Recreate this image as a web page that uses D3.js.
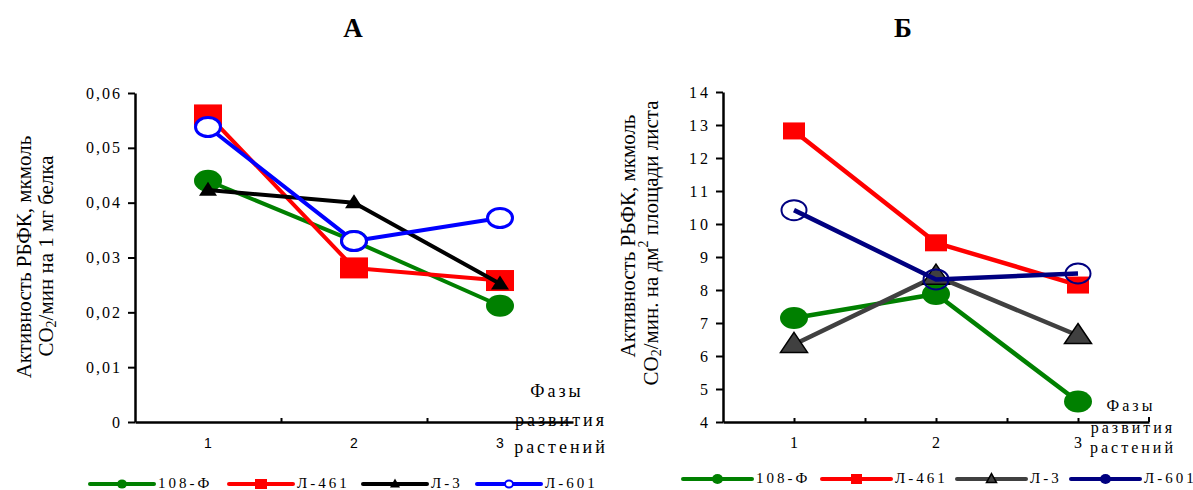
<!DOCTYPE html>
<html>
<head>
<meta charset="utf-8">
<script src="https://cdn.jsdelivr.net/npm/d3@7"></script>
<style>
  body { margin: 0; background: #fff; }
  svg { display: block; }
  text { font-family: "Liberation Serif", "Times New Roman", serif; fill: #000; }
  text.sans { font-family: "Liberation Sans", Arial, sans-serif; }
</style>
</head>
<body>
<svg id="chart" width="1193" height="490"></svg>
<script>
// phases of plant development
const phases = [1, 2, 3];
const varieties = ["108-Ф", "Л-461", "Л-3", "Л-601"];

// A: activity per 1 mg protein
const protein108F = [0.044, 0.033, 0.0212];
const protein461 = [0.056, 0.0281, 0.0258];
const protein3 = [0.0423, 0.040, 0.0252];
const protein601 = [0.0538, 0.033, 0.0372];
const ticksA = [0, 0.01, 0.02, 0.03, 0.04, 0.05, 0.06];

// Б: activity per dm2 leaf area
const leaf108F = [7.15, 7.88, 4.62];
const leaf461 = [12.82, 9.43, 8.15];
const leaf3 = [6.35, 8.42, 6.62];
const leaf601 = [10.42, 8.32, 8.5];
const ticksB = [4, 5, 6, 7, 8, 9, 10, 11, 12, 13, 14];

const svg = d3.select("#chart");

function marker(g, type, x, y, s, style) {
  if (type === "circle") {
    g.append("ellipse").attr("cx", x).attr("cy", y)
      .attr("rx", s.rx).attr("ry", s.ry)
      .attr("fill", style.fill).attr("stroke", style.stroke || "none")
      .attr("stroke-width", style.sw || 0);
  } else if (type === "square") {
    g.append("rect").attr("x", x - s.w / 2).attr("y", y - s.h / 2)
      .attr("width", s.w).attr("height", s.h).attr("fill", style.fill);
  } else if (type === "triangle") {
    g.append("path")
      .attr("d", `M${x},${y - s.h * 0.6}L${x + s.w / 2},${y + s.h * 0.4}L${x - s.w / 2},${y + s.h * 0.4}Z`)
      .attr("fill", style.fill).attr("stroke", style.stroke || "none")
      .attr("stroke-width", style.sw || 0).attr("stroke-linejoin", "miter");
  }
}

function drawPanel(cfg) {
  const g = svg.append("g");
  const x = d3.scaleLinear().domain([0.5, 3.5]).range([cfg.x0, cfg.x1]);
  const y = d3.scaleLinear().domain(cfg.yDomain).range([cfg.y0, cfg.y1]);

  // y axis
  const ya = g.append("g").attr("transform", `translate(${cfg.x0},0)`)
    .call(d3.axisLeft(y).tickValues(cfg.ticks).tickSize(7).tickSizeOuter(0)
      .tickFormat(cfg.fmt));
  ya.select(".domain").attr("stroke-width", 2.5);
  ya.selectAll(".tick line").attr("stroke-width", 2);
  ya.selectAll(".tick text")
    .style("font-size", cfg.tickSize + "px")
    .attr("letter-spacing", cfg.ls).attr("x", cfg.tickX);

  // x axis
  const xa = g.append("g").attr("transform", `translate(0,${cfg.y0})`)
    .call(d3.axisBottom(x).tickValues(cfg.xTicks).tickSizeInner(-4)
      .tickSizeOuter(0).tickFormat(""));
  xa.select(".domain").attr("stroke-width", 2.5);
  xa.selectAll(".tick line").attr("stroke-width", 2);
  if (cfg.endTick) {
    g.append("line").attr("x1", cfg.x1).attr("x2", cfg.x1)
      .attr("y1", cfg.y0).attr("y2", cfg.y0 - 5)
      .attr("stroke", "#000").attr("stroke-width", 2);
  }
  g.selectAll(".phase").data(phases).enter().append("text")
    .attr("class", cfg.xClass)
    .attr("x", d => x(d)).attr("y", cfg.y0 + 26)
    .attr("text-anchor", "middle")
    .style("font-size", cfg.xFontSize + "px")
    .text(d => d);

  // axis caption "Фазы развития растений"
  cfg.caption.forEach(c => {
    g.append("text").attr("x", c[0]).attr("y", c[1])
      .attr("text-anchor", "middle").attr("font-size", cfg.capSize)
      .attr("letter-spacing", 3).text(c[2]);
  });

  // y label
  g.append("text")
    .attr("transform", `translate(${cfg.lab1[0]},${cfg.lab1[1]}) rotate(-90)`)
    .attr("text-anchor", "middle").attr("dominant-baseline", "central")
    .attr("font-size", 21).text(cfg.label1);
  const l2 = g.append("text")
    .attr("transform", `translate(${cfg.lab2[0]},${cfg.lab2[1]}) rotate(-90)`)
    .attr("text-anchor", "middle").attr("dominant-baseline", "central")
    .attr("font-size", 21);
  cfg.label2(l2);

  // title
  g.append("text").attr("x", cfg.titleX).attr("y", 37)
    .attr("text-anchor", "middle").attr("font-size", 27)
    .attr("font-weight", "bold").text(cfg.title);

  // series
  const line = d3.line().x((d, i) => x(phases[i])).y(d => y(d));
  cfg.series.forEach(s => {
    g.append("path").attr("d", line(s.values)).attr("fill", "none")
      .attr("stroke", s.color).attr("stroke-width", cfg.lw)
      .attr("stroke-linejoin", "round");
    s.values.forEach((v, i) => marker(g, s.type, x(phases[i]), y(v), s.size, s.style));
  });

  // legend
  cfg.series.forEach((s, i) => {
    const lx = cfg.legX[i], ly = cfg.legY;
    g.append("line").attr("x1", lx).attr("x2", lx + cfg.legW)
      .attr("y1", ly).attr("y2", ly).attr("stroke", s.color)
      .attr("stroke-width", 4).attr("stroke-linecap", "round");
    marker(g, s.type, lx + cfg.legW / 2, ly, s.legSize, s.legStyle);
    g.append("text").attr("x", lx + cfg.legW + 4).attr("y", ly + 4)
      .attr("font-size", 15).attr("letter-spacing", 3).text(varieties[i]);
  });
}

const co2 = (t, tail, sup) => {
  t.append("tspan").text("CO");
  t.append("tspan").attr("font-size", 14).attr("dy", 5).text("2");
  t.append("tspan").attr("dy", -5).text(tail);
  if (sup) {
    t.append("tspan").attr("font-size", 14).attr("dy", -8).text(sup);
    t.append("tspan").attr("dy", 8).text(" площади листа");
  }
};

drawPanel({
  x0: 135, x1: 573, y0: 422, y1: 93, yDomain: [0, 0.06],
  ticks: ticksA, fmt: d => d3.format(".2f")(d).replace(".", ",").replace("0,00", "0"),
  ls: 2, tickX: -13, tickSize: 16, xTicks: [1.5, 2.5], endTick: false,
  xClass: "sans", xFontSize: 14,
  caption: [[557, 397, "Фазы"], [561, 426, "развития"], [561, 453, "растений"]], capSize: 18,
  lab1: [24, 257], lab2: [46, 256],
  label1: "Активность РБФК, мкмоль",
  label2: t => co2(t, "/мин на 1 мг белка"),
  titleX: 353, title: "А", lw: 4,
  series: [
    { values: protein108F, color: "#008000", type: "circle", size: { rx: 14, ry: 11 },
      style: { fill: "#008000" }, legSize: { rx: 5, ry: 4.5 }, legStyle: { fill: "#008000" } },
    { values: protein461, color: "#ff0000", type: "square", size: { w: 28, h: 21 },
      style: { fill: "#ff0000" }, legSize: { w: 12, h: 10 }, legStyle: { fill: "#ff0000" } },
    { values: protein3, color: "#000000", type: "triangle", size: { w: 18, h: 14 },
      style: { fill: "#000" }, legSize: { w: 10, h: 9 }, legStyle: { fill: "#000" } },
    { values: protein601, color: "#0000ff", type: "circle", size: { rx: 12.5, ry: 9.5 },
      style: { fill: "#fff", stroke: "#0000ff", sw: 3 }, legSize: { rx: 4, ry: 3.5 },
      legStyle: { fill: "#fff", stroke: "#0000ff", sw: 2 } }
  ],
  legX: [90, 229, 363, 477], legW: 64, legY: 484
});

drawPanel({
  x0: 723, x1: 1149, y0: 422, y1: 92, yDomain: [4, 14],
  ticks: ticksB, fmt: d => d, ls: 3, tickX: -12, tickSize: 16,
  xTicks: [1, 1.5, 2, 2.5, 3], endTick: true,
  xClass: "", xFontSize: 16,
  caption: [[1131, 411, "Фазы"], [1133, 433, "развития"], [1133, 453, "растений"]], capSize: 16,
  lab1: [628, 236], lab2: [651, 243],
  label1: "Активность РЬФК, мкмоль",
  label2: t => co2(t, "/мин. на дм", "2"),
  titleX: 903, title: "Б", lw: 4.5,
  series: [
    { values: leaf108F, color: "#008000", type: "circle", size: { rx: 14, ry: 11 },
      style: { fill: "#008000" }, legSize: { rx: 5.5, ry: 5 }, legStyle: { fill: "#008000" } },
    { values: leaf461, color: "#ff0000", type: "square", size: { w: 22, h: 17 },
      style: { fill: "#ff0000" }, legSize: { w: 11, h: 10 }, legStyle: { fill: "#ff0000" } },
    { values: leaf3, color: "#404040", type: "triangle", size: { w: 27, h: 20 },
      style: { fill: "#404040", stroke: "#000", sw: 1.5 }, legSize: { w: 10, h: 9 },
      legStyle: { fill: "#404040", stroke: "#000", sw: 1.5 } },
    { values: leaf601, color: "#000080", type: "circle", size: { rx: 12.5, ry: 10 },
      style: { fill: "none", stroke: "#000080", sw: 2 }, legSize: { rx: 5.5, ry: 5 },
      legStyle: { fill: "#000080" } }
  ],
  legX: [683, 822, 957, 1071], legW: 69, legY: 479
});
</script>
</body>
</html>
